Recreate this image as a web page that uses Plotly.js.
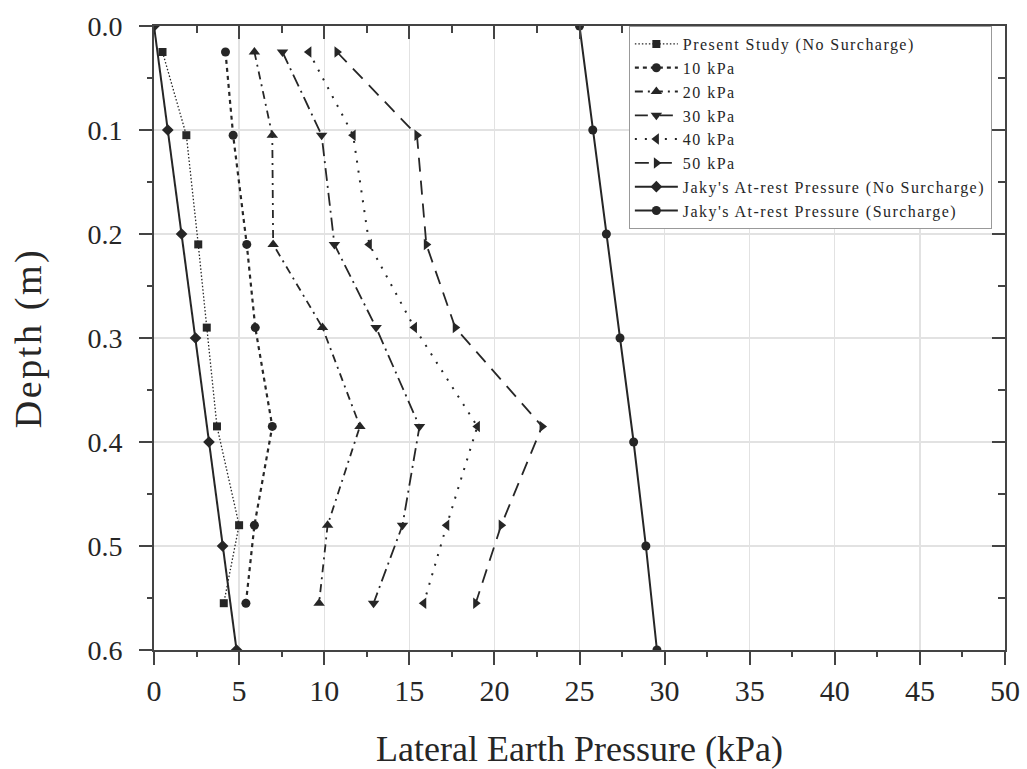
<!DOCTYPE html>
<html>
<head>
<meta charset="utf-8">
<script src="https://cdn.plot.ly/plotly-3.0.1.min.js"></script>
<style>
html,body{margin:0;padding:0;background:#fff;}
#chart{width:1027px;height:769px;}
text.legendtext{letter-spacing:1.45px;}
text.ytitle{letter-spacing:2.6px;}
</style>
</head>
<body>
<div id="chart"></div>
<script>
// Depth of measurement points (m)
const depthStudy = [0.025, 0.105, 0.21, 0.29, 0.385, 0.48, 0.555];
// Lateral earth pressure (kPa)
const presentStudy = [0.5, 1.9, 2.6, 3.1, 3.7, 5.0, 4.1];
const kpa10 = [4.2, 4.65, 5.45, 5.95, 6.95, 5.9, 5.4];
const kpa20 = [5.9, 6.95, 7.0, 9.9, 12.1, 10.2, 9.7];
const kpa30 = [7.55, 9.85, 10.6, 13.05, 15.6, 14.6, 12.9];
const kpa40 = [9.1, 11.7, 12.65, 15.3, 19.0, 17.2, 15.85];
const kpa50 = [10.75, 15.45, 16.0, 17.7, 22.8, 20.4, 18.9];
// Jaky's at-rest pressure
const depthJaky = [0.0, 0.1, 0.2, 0.3, 0.4, 0.5, 0.6];
const jakyNoSurcharge = [0.0, 0.81, 1.62, 2.44, 3.23, 4.03, 4.85];
const jakySurcharge = [25.0, 25.78, 26.58, 27.38, 28.18, 28.9, 29.55];

const seriesNames = [
  'Present Study (No Surcharge)', '10 kPa', '20 kPa', '30 kPa', '40 kPa', '50 kPa',
  "Jaky's At-rest Pressure (No Surcharge)", "Jaky's At-rest Pressure (Surcharge)"
];

const ink = '#262626';
const serif = 'Liberation Serif, Times New Roman, serif';

function tr(x, y, name, dash, width, symbol, size) {
  return {
    x: x, y: y, name: name, type: 'scatter', mode: 'lines+markers',
    line: {color: ink, dash: dash, width: width},
    marker: {color: ink, symbol: symbol, size: size}
  };
}

const data = [
  tr(presentStudy, depthStudy, seriesNames[0], '1.5px,2px', 1.3, 'square', 8),
  tr(kpa10, depthStudy, seriesNames[1], '4px,4px', 2.2, 'circle', 9),
  tr(kpa20, depthStudy, seriesNames[2], '8px,5px,2px,5px', 1.8, 'triangle-up', 10),
  tr(kpa30, depthStudy, seriesNames[3], '13px,5px,2px,5px', 1.8, 'triangle-down', 10),
  tr(kpa40, depthStudy, seriesNames[4], '2px,8px', 2, 'triangle-left', 10),
  tr(kpa50, depthStudy, seriesNames[5], '14px,9px', 1.8, 'triangle-right', 10),
  tr(jakyNoSurcharge, depthJaky, seriesNames[6], 'solid', 2, 'diamond', 9),
  tr(jakySurcharge, depthJaky, seriesNames[7], 'solid', 2, 'circle', 9),
  {x: [], y: [], xaxis: 'x2', yaxis: 'y2', showlegend: false, hoverinfo: 'skip', type: 'scatter'}
];

const axisLine = {showline: true, linecolor: '#444', linewidth: 2};

const layout = {
  width: 1027, height: 769,
  margin: {l: 154, r: 22, t: 26, b: 119},
  paper_bgcolor: '#fff', plot_bgcolor: '#fff',
  font: {family: serif, color: ink},
  showlegend: true,
  legend: {
    x: 0.558, y: 1.0, xanchor: 'left', yanchor: 'top',
    bgcolor: '#fff', bordercolor: '#999', borderwidth: 1,
    font: {family: serif, size: 16, color: ink},
    tracegroupgap: 0, itemwidth: 43
  },
  xaxis: Object.assign({
    range: [0, 50], dtick: 5, tick0: 0,
    ticks: 'outside', ticklen: 13, tickwidth: 2, tickcolor: '#444',
    minor: {dtick: 2.5, ticks: 'outside', ticklen: 5, tickwidth: 2, tickcolor: '#444', showgrid: false},
    showgrid: true, gridcolor: '#e2e2e2', gridwidth: 1.3, zeroline: false,
    tickfont: {family: serif, size: 30, color: ink},
    title: {text: 'Lateral Earth Pressure (kPa)', font: {family: serif, size: 36, color: ink}, standoff: 30}
  }, axisLine),
  yaxis: Object.assign({
    range: [0.6, 0], dtick: 0.1, tick0: 0, tickformat: '.1f',
    ticks: 'outside', ticklen: 13, tickwidth: 2, tickcolor: '#444', ticklabelstandoff: 11,
    minor: {dtick: 0.05, ticks: 'outside', ticklen: 5, tickwidth: 2, tickcolor: '#444', showgrid: false},
    showgrid: true, gridcolor: '#e2e2e2', gridwidth: 1.3, zeroline: false,
    tickfont: {family: serif, size: 28, color: ink},
    title: {text: 'Depth (m)', font: {family: serif, size: 38, color: ink}, standoff: 34}
  }, axisLine),
  xaxis2: Object.assign({
    overlaying: 'x', side: 'top', anchor: 'y2', range: [0, 50], dtick: 5, tick0: 0,
    ticks: 'inside', ticklen: 13, tickwidth: 2, tickcolor: '#444',
    minor: {dtick: 2.5, ticks: 'inside', ticklen: 7, tickwidth: 2, tickcolor: '#444', showgrid: false},
    showticklabels: false, showgrid: false, zeroline: false
  }, axisLine),
  yaxis2: Object.assign({
    overlaying: 'y', side: 'right', anchor: 'x2', range: [0.6, 0], dtick: 0.1, tick0: 0,
    ticks: 'inside', ticklen: 13, tickwidth: 2, tickcolor: '#444',
    minor: {dtick: 0.05, ticks: 'inside', ticklen: 7, tickwidth: 2, tickcolor: '#444', showgrid: false},
    showticklabels: false, showgrid: false, zeroline: false
  }, axisLine)
};

Plotly.newPlot('chart', data, layout, {displayModeBar: false, staticPlot: true});
</script>
</body>
</html>
